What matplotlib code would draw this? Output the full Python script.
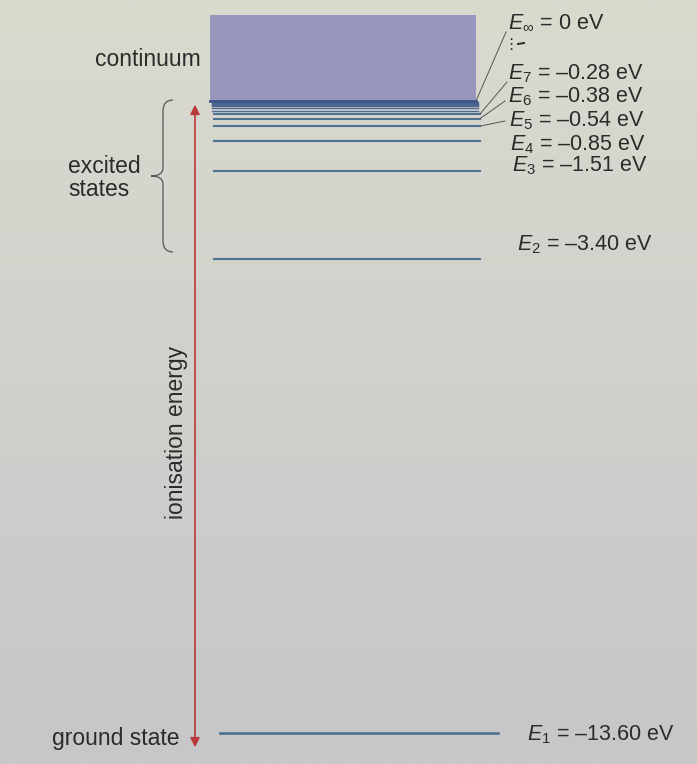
"""Hydrogen energy-level diagram (textbook figure redraw)."""

import matplotlib

matplotlib.use("Agg")
import matplotlib.pyplot as plt  # noqa: E402
import numpy as np  # noqa: E402
from matplotlib.path import Path  # noqa: E402
from matplotlib.patches import PathPatch  # noqa: E402

# level energies (eV)
LEVEL_N = [1, 2, 3, 4, 5, 6, 7]
LEVEL_E = [-13.60, -3.40, -1.51, -0.85, -0.54, -0.38, -0.28]
# unlabeled levels crowding into the continuum edge
DENSE_E = [-0.21, -0.14, -0.11, -0.09, -0.07, -0.05, -0.03]
E_INF = 0.0

INK, LEVEL, CONT, BAND, RED = "#2b2b2b", "#4d7192", "#9996bd", "#3b5789", "#b83a3a"
BG_TOP, BG_BOT = np.array([218, 218, 207]) / 255, np.array([199, 198, 201]) / 255

plt.rcParams.update(
    {
        "font.family": ["Liberation Sans", "DejaVu Sans"],
        "mathtext.fontset": "custom",
        "mathtext.rm": "Liberation Sans",
        "mathtext.it": "Liberation Sans:italic",
        "text.color": INK,
    }
)

W, H = 697, 764
Y0, SCALE = 101, 46.5  # pixel row of E = 0 and pixels per eV
FS_LEFT, FS_LAB = 16.5, 15.5


def py(row):
    """pixel row -> energy coordinate, used for layout only"""
    return (Y0 - row) / SCALE


fig = plt.figure(figsize=(W / 100, H / 100), dpi=100)
ax = fig.add_axes([0, 0, 1, 1])
ax.set_xlim(0, W)
ax.set_ylim(py(H), py(0))
ax.axis("off")

# paper background
grad = np.linspace(0, 1, 256)[:, None, None]
img = BG_TOP * (1 - grad) + BG_BOT * grad
ax.imshow(img, extent=(0, W, py(H), py(0)), aspect="auto", zorder=0)

# continuum
ax.fill_between([210, 476], E_INF, py(15), color=CONT, lw=0, zorder=1)
for e in DENSE_E:
    ax.plot([212, 478], [e, e], color=BAND, lw=1.0, alpha=0.85, zorder=2)
ax.plot([210, 476], [E_INF, E_INF], color=BAND, lw=2.0, zorder=2)

# bound levels
for n, e in zip(LEVEL_N, LEVEL_E):
    x0, x1 = (220, 498) if n == 1 else (214, 480)
    ax.plot([x0, x1], [e, e], color=LEVEL, lw=1.5 if n > 1 else 1.9, zorder=3)

# ionisation energy arrow
ax.annotate(
    "",
    xy=(195, E_INF - 0.08),
    xytext=(195, LEVEL_E[0] - 0.3),
    arrowprops=dict(arrowstyle="<|-|>", color=RED, lw=1.2, mutation_scale=14, shrinkA=0, shrinkB=0),
    zorder=4,
)
ax.text(176, py(432), "ionisation energy", rotation=90, ha="center", va="center", fontsize=FS_LEFT)

# brace for excited states
bx, tip = 163, 151
top, mid, bot = 100, 176, 252
verts = [
    (173, top), (bx, top), (bx, top + 11),
    (bx, mid - 8),
    (bx, mid), (tip, mid),
    (bx, mid), (bx, mid + 8),
    (bx, bot - 11),
    (bx, bot), (173, bot),
]
codes = [Path.MOVETO, Path.CURVE3, Path.CURVE3, Path.LINETO, Path.CURVE3, Path.CURVE3,
         Path.CURVE3, Path.CURVE3, Path.LINETO, Path.CURVE3, Path.CURVE3]
brace = Path([(x, py(r)) for x, r in verts], codes)
ax.add_patch(PathPatch(brace, fc="none", ec="#555555", lw=0.9, zorder=4))

ax.text(68, py(178), "excited\nstates", ha="left", va="center", fontsize=FS_LEFT, linespacing=1.05)
ax.text(201, py(60), "continuum", ha="right", va="center", fontsize=FS_LEFT)
ax.text(52, py(739), "ground state", ha="left", va="center", fontsize=FS_LEFT)


# right-hand labels
def label(x, row, sub, val):
    txt = f"$E_{{{sub}}}$ = {'–' if val < 0 else ''}{abs(val):.2f} eV" if val else f"$E_{{{sub}}}$ = 0 eV"
    ax.text(x, py(row), txt, ha="left", va="center", fontsize=FS_LAB)


label(508, 23, r"\infty", E_INF)
ax.text(511, py(44), "⋮", ha="center", va="center", fontsize=11, family=["DejaVu Sans"])
ax.plot([518, 524], [py(44), py(43)], color=INK, lw=1.4)

lab_pos = {7: (508, 74), 6: (508, 97), 5: (509, 121), 4: (510, 145), 3: (512, 166), 2: (517, 245), 1: (527, 735)}
for n, e in zip(LEVEL_N, LEVEL_E):
    x, r = lab_pos[n]
    label(x, r, n, e)

# leader lines from the crowded levels to their labels
leaders = [(E_INF, 476, 506, 32), (LEVEL_E[6], 480, 507, 82), (LEVEL_E[5], 480, 505, 101), (LEVEL_E[4], 480, 505, 121)]
for e, x0, x1, r in leaders:
    ax.plot([x0, x1], [e, py(r)], color="#555555", lw=0.7, zorder=3)

fig.savefig("out.png", dpi=100)
